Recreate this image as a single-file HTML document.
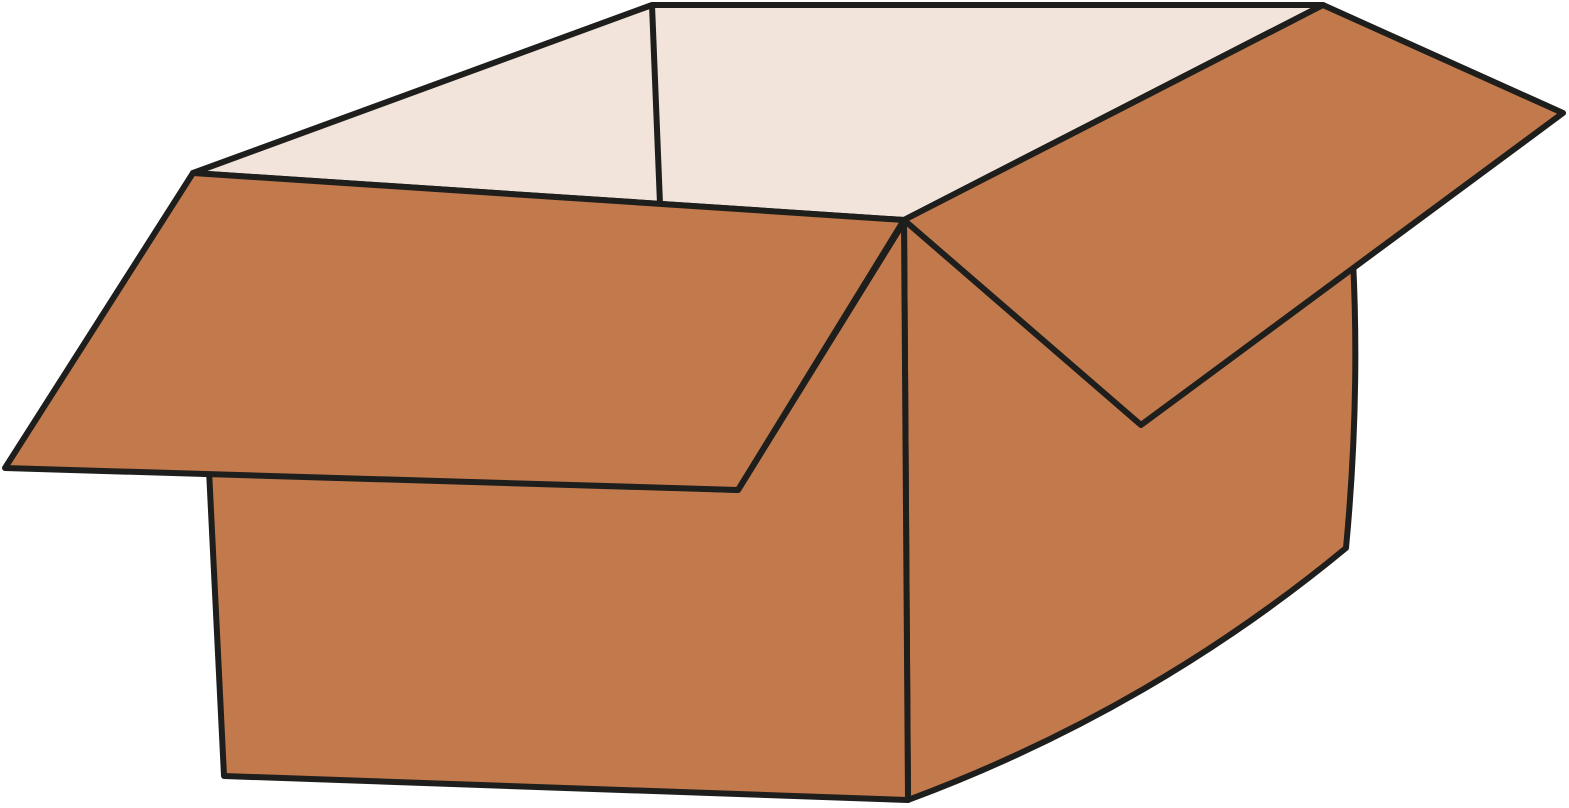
<!DOCTYPE html>
<html>
<head>
<meta charset="utf-8">
<style>
html,body{margin:0;padding:0;background:#fff;}
svg{display:block;}
</style>
</head>
<body>
<svg width="1569" height="808" viewBox="0 0 1569 808" xmlns="http://www.w3.org/2000/svg">
  <g stroke="#1e1e1c" stroke-width="6" stroke-linejoin="round" fill="#c27a4d">
    <polygon fill="#f2e4da" points="193,173 652,5 1323,5 904,220"/>
    <line x1="652" y1="5" x2="660" y2="204"/>
    <path d="M904,222 L1353,260 Q1360,400 1346,548 Q1150,710 908,800 Z"/>
    <polygon points="209,470 224,776 908,800 904,222 738,490"/>
    <polygon points="193,173 904,220 738,490 5,468"/>
    <polygon points="904,220 1323,5 1563,113 1141,425"/>
  </g>
</svg>
</body>
</html>
